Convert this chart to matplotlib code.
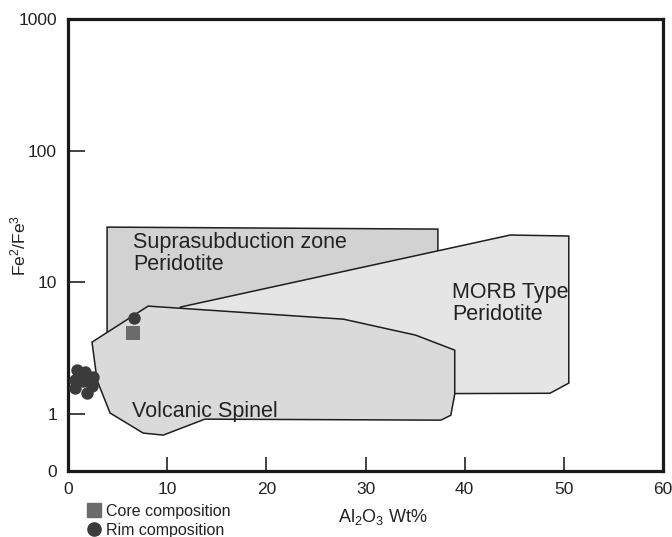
import matplotlib
matplotlib.use("Agg")
import matplotlib.pyplot as plt
from matplotlib.patches import Polygon
from matplotlib.lines import Line2D
import numpy as np

plt.rcParams['font.family'] = ['Liberation Sans', 'DejaVu Sans']
plt.rcParams['mathtext.default'] = 'regular'

# Field polygons (Al2O3 wt%, Fe2/Fe3)
ssz_x = [3.94, 37.3, 37.3, 3.94]
ssz_y = [26.3, 25.4, 7.3, 3.65]

morb_x = [11.3, 44.6, 50.5, 50.5, 48.6, 23.4]
morb_y = [6.49, 22.9, 22.5, 1.72, 1.44, 1.42]

volc_x = [2.42, 8.08, 27.78, 35.05, 39.0, 39.0, 38.6, 37.6, 13.8, 9.6, 7.58, 4.24, 2.93]
volc_y = [3.52, 6.61, 5.26, 3.98, 3.06, 1.42, 0.98, 0.90, 0.916, 0.693, 0.718, 1.02, 1.81]

# Samples
core_x = [6.6]
core_y = [4.10]
rim_x = [6.67, 0.91, 1.72, 2.53, 0.71, 1.52, 0.71, 2.42, 1.92]
rim_y = [5.33, 2.16, 2.08, 1.91, 1.81, 1.78, 1.57, 1.63, 1.44]

xticks = [0, 10, 20, 30, 40, 50, 60]
y_bottom = 0.37
yticks = [y_bottom, 1, 10, 100, 1000]
ytick_labels = ['0', '1', '10', '100', '1000']

fig = plt.figure(figsize=(6.72, 5.37), dpi=100)
ax = fig.add_axes([68/672, 1-471/537, (663-68)/672, (471-19)/537])
ax.set_yscale('log')
ax.set_xlim(0, 60)
ax.set_ylim(y_bottom, 1000)

edge = '#1e1e1e'
ax.add_patch(Polygon(np.column_stack([ssz_x, ssz_y]), closed=True,
                     facecolor='#d2d2d2', edgecolor=edge, lw=1.1, zorder=1))
ax.add_patch(Polygon(np.column_stack([morb_x, morb_y]), closed=True,
                     facecolor='#e5e5e5', edgecolor=edge, lw=1.1, zorder=2))
ax.add_patch(Polygon(np.column_stack([volc_x, volc_y]), closed=True,
                     facecolor='#dadada', edgecolor=edge, lw=1.1, zorder=3))

ax.scatter(core_x, core_y, marker='s', s=95, color='#6b6b6b', zorder=5, linewidths=0)
ax.scatter(rim_x, rim_y, marker='o', s=80, color='#3b3b3b', zorder=6, linewidths=0, clip_on=False)

ax.text(6.6, 26.3 * 0.92, 'Suprasubduction zone\nPeridotite', fontsize=15.5,
        va='top', ha='left', color='#222222', linespacing=1.05, zorder=7)
ax.text(38.7, 6.9, 'MORB Type\nPeridotite', fontsize=15.5,
        va='center', ha='left', color='#222222', linespacing=1.05, zorder=7)
ax.text(6.5, 1.04, 'Volcanic Spinel', fontsize=15.5,
        va='center', ha='left', color='#222222', zorder=7)

ax.set_xticks(xticks)
ax.set_xticklabels([str(t) for t in xticks])
ax.set_yticks(yticks)
ax.set_yticklabels(ytick_labels)
ax.yaxis.set_minor_locator(matplotlib.ticker.NullLocator())
ax.tick_params(axis='both', direction='in', labelsize=12.5, color='#222222',
               labelcolor='#222222', width=1.2)
ax.tick_params(axis='y', length=12, pad=8)
ax.tick_params(axis='x', length=10, pad=8)
for s in ax.spines.values():
    s.set_linewidth(2.3)
    s.set_color('#1a1a1a')

fig.text(383/672, 1-517/537, r'Al$_{2}$O$_{3}$ Wt%', fontsize=13,
         ha='center', va='center', color='#222222')
fig.text(18/672, 1-245/537, r'Fe$^{2}$/Fe$^{3}$', fontsize=12.5, rotation=90,
         ha='center', va='center', color='#222222')

handles = [Line2D([], [], marker='s', ls='none', color='#6b6b6b', markersize=10.5),
           Line2D([], [], marker='o', ls='none', color='#3b3b3b', markersize=9.5)]
fig.legend(handles, ['Core composition', 'Rim composition'], loc='upper left',
           bbox_to_anchor=(87/672, 1-504/537), frameon=False, fontsize=11.5,
           handlelength=0.9, handletextpad=0.3, labelspacing=0.25,
           borderpad=0, borderaxespad=0, labelcolor='#222222')

fig.savefig('out.png', dpi=100)
